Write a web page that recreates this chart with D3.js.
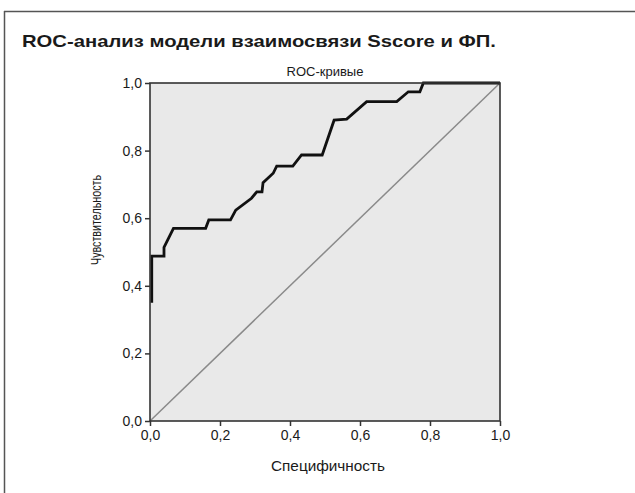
<!DOCTYPE html>
<html>
<head>
<meta charset="utf-8">
<script src="https://cdn.jsdelivr.net/npm/d3@7"></script>
<style>
  body { margin: 0; background: #fff; }
  svg text { font-family: "Liberation Sans", Arial, sans-serif; fill: #1a1a1a; }
</style>
</head>
<body>
<div id="container"></div>
<script>
// General Settings
var width = 635, height = 493,
    margin = {top: 83, left: 150},
    w = 350, h = 338,
    col = {curve: "#111", diag: "#8a8a8a", plotBg: "#e9e9e9", frame: "#333"};

var title = "ROC-анализ модели взаимосвязи Sscore и ФП.",
    subtitle = "ROC-кривые",
    xLabel = "Специфичность",
    yLabel = "Чувствительность";

var ticks = [0, 0.2, 0.4, 0.6, 0.8, 1.0];

// ROC curve
var fpr = [0.005, 0.005, 0.04, 0.04, 0.067, 0.159, 0.168, 0.23, 0.245, 0.29, 0.305, 0.32, 0.323,
           0.352, 0.362, 0.408, 0.433, 0.492, 0.526, 0.562, 0.619, 0.705, 0.738, 0.771, 0.781, 1.0];
var tpr = [0.35, 0.488, 0.488, 0.514, 0.57, 0.57, 0.595, 0.595, 0.624, 0.659, 0.678, 0.678, 0.705,
           0.733, 0.754, 0.754, 0.787, 0.787, 0.89, 0.893, 0.945, 0.945, 0.974, 0.974, 1.0, 1.0];
var diag = [0, 1];

var svg = d3.select("#container")
    .append("svg")
    .attr("width", width)
    .attr("height", height);

// outer frame (top and left edges only visible)
svg.append("line")
    .attr("x1", 4).attr("x2", width).attr("y1", 11.5).attr("y2", 11.5)
    .attr("stroke", "#555").attr("stroke-width", 1.5);
svg.append("line")
    .attr("x1", 4.5).attr("x2", 4.5).attr("y1", 11).attr("y2", height)
    .attr("stroke", "#555").attr("stroke-width", 1.5);

// title
svg.append("text")
    .attr("x", 22)
    .attr("y", 47)
    .attr("textLength", 474)
    .attr("lengthAdjust", "spacingAndGlyphs")
    .style("font-size", "17px")
    .style("font-weight", "bold")
    .text(title);

var x = d3.scaleLinear().domain([0, 1]).range([0, w]);
var y = d3.scaleLinear().domain([0, 1]).range([h, 0]);

var g = svg.append("g")
    .attr("transform", "translate(" + margin.left + "," + margin.top + ")");

g.append("rect")
    .attr("width", w)
    .attr("height", h)
    .attr("fill", col.plotBg);

// subtitle
g.append("text")
    .attr("x", w / 2)
    .attr("y", -7)
    .attr("text-anchor", "middle")
    .style("font-size", "13px")
    .text(subtitle);

// diagonal reference
g.append("line")
    .attr("x1", x(diag[0])).attr("y1", y(diag[0]))
    .attr("x2", x(diag[1])).attr("y2", y(diag[1]))
    .attr("stroke", col.diag)
    .attr("stroke-width", 1.5);

// ROC curve
var pts = fpr.map(function(d, i) { return [d, tpr[i]]; });
g.append("path")
    .datum(pts)
    .attr("fill", "none")
    .attr("stroke", col.curve)
    .attr("stroke-width", 2.8)
    .attr("stroke-linejoin", "miter")
    .attr("d", d3.line()
        .x(function(d) { return x(d[0]); })
        .y(function(d) { return y(d[1]); }));

// frame
g.append("rect")
    .attr("width", w)
    .attr("height", h)
    .attr("fill", "none")
    .attr("stroke", col.frame)
    .attr("stroke-width", 1.6);

var fmt = function(d) { return d3.format(".1f")(d).replace(".", ","); };

// X axis
var xAxis = g.append("g")
    .attr("transform", "translate(0," + h + ")")
    .call(d3.axisBottom(x).tickValues(ticks).tickSize(5).tickPadding(4).tickFormat(fmt));
// Y axis
var yAxis = g.append("g")
    .call(d3.axisLeft(y).tickValues(ticks).tickSize(5).tickPadding(3).tickFormat(fmt));

[xAxis, yAxis].forEach(function(a) {
    a.select(".domain").remove();
    a.selectAll(".tick line").attr("stroke", col.frame).attr("stroke-width", 1.5);
    a.selectAll(".tick text")
        .style("font-size", "14px")
        .attr("fill", "#1a1a1a");
});

// axis labels
g.append("text")
    .attr("x", w / 2 + 3)
    .attr("y", h + 50)
    .attr("text-anchor", "middle")
    .attr("textLength", 114)
    .attr("lengthAdjust", "spacingAndGlyphs")
    .style("font-size", "14.5px")
    .text(xLabel);

g.append("text")
    .attr("transform", "rotate(-90)")
    .attr("x", -(220 - margin.top))
    .attr("y", -49)
    .attr("text-anchor", "middle")
    .attr("textLength", 90)
    .attr("lengthAdjust", "spacingAndGlyphs")
    .style("font-size", "14px")
    .text(yLabel);
</script>
</body>
</html>
